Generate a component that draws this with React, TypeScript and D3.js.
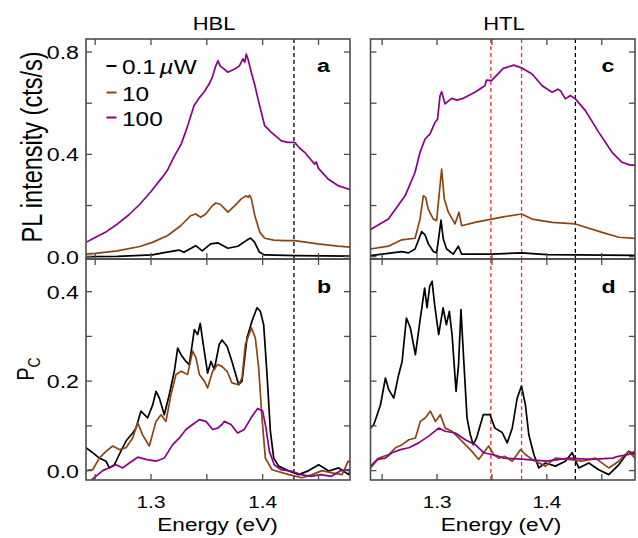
import React from 'react';
import * as d3 from 'd3';

type Pt = [number, number];

// ---------- Data (energy eV, value) ----------
const hblPL01: Pt[] = [
  [1.2418, 0.0], [1.2698, 0.0015], [1.3012, 0.007], [1.3131, 0.017], [1.325, 0.026], [1.3295, 0.017],
  [1.34, 0.043], [1.3459, 0.023], [1.3534, 0.05], [1.36, 0.054], [1.3689, 0.033], [1.3778, 0.041],
  [1.3853, 0.063], [1.3892, 0.073], [1.3928, 0.056], [1.3972, 0.017], [1.4018, 0.007], [1.43, 0.004], [1.4785, 0.002],
];
const hblPL10: Pt[] = [
  [1.2418, 0.01], [1.25, 0.013], [1.2698, 0.023], [1.29, 0.04], [1.3012, 0.056], [1.3146, 0.082], [1.3266, 0.121],
  [1.3355, 0.16], [1.34, 0.167], [1.3445, 0.154], [1.349, 0.167], [1.3549, 0.199], [1.358, 0.21], [1.362, 0.205],
  [1.3689, 0.174], [1.3749, 0.199], [1.3808, 0.226], [1.3853, 0.238], [1.387, 0.232], [1.3883, 0.24], [1.3898, 0.228],
  [1.393, 0.16], [1.3975, 0.095], [1.4018, 0.072], [1.41, 0.065], [1.4197, 0.063], [1.4286, 0.063], [1.4494, 0.05],
  [1.4674, 0.041], [1.4785, 0.037],
];
const hblPL100: Pt[] = [
  [1.2418, 0.056], [1.25, 0.075], [1.26, 0.098], [1.27, 0.128], [1.28, 0.163], [1.29, 0.205], [1.3, 0.255],
  [1.31, 0.31], [1.315, 0.34], [1.32, 0.385], [1.327, 0.44], [1.332, 0.5], [1.3385, 0.59], [1.343, 0.62],
  [1.3474, 0.643], [1.352, 0.675], [1.3549, 0.701], [1.3575, 0.74], [1.3594, 0.76], [1.36, 0.766], [1.362, 0.745],
  [1.365, 0.735], [1.3689, 0.721], [1.372, 0.728], [1.3749, 0.734], [1.379, 0.745], [1.3824, 0.773], [1.384, 0.76],
  [1.3853, 0.792], [1.387, 0.77], [1.3898, 0.721], [1.393, 0.67], [1.3958, 0.617], [1.4018, 0.512], [1.4077, 0.486],
  [1.412, 0.47], [1.4167, 0.453], [1.4226, 0.447], [1.4286, 0.447], [1.433, 0.425], [1.4376, 0.408], [1.442, 0.385],
  [1.4466, 0.362], [1.448, 0.37], [1.45, 0.345], [1.4585, 0.304], [1.4674, 0.278], [1.4785, 0.262],
];

const htlPL01: Pt[] = [
  [1.2394, 0.004], [1.2679, 0.02], [1.274, 0.015], [1.28, 0.03], [1.286, 0.098], [1.2891, 0.085], [1.2921, 0.05],
  [1.2966, 0.02], [1.2996, 0.015], [1.3018, 0.082], [1.3036, 0.143], [1.3057, 0.069], [1.3087, 0.03], [1.3148, 0.01],
  [1.3194, 0.041], [1.3224, 0.01], [1.35, 0.01], [1.377, 0.015], [1.4, 0.008], [1.4803, 0.005],
];
const htlPL10: Pt[] = [
  [1.2394, 0.03], [1.2557, 0.041], [1.2679, 0.066], [1.28, 0.072], [1.2845, 0.147], [1.2875, 0.238], [1.2896, 0.232],
  [1.292, 0.186], [1.2966, 0.147], [1.2996, 0.141], [1.3018, 0.238], [1.3042, 0.342], [1.3066, 0.226], [1.3103, 0.174],
  [1.3163, 0.128], [1.32, 0.174], [1.3224, 0.121], [1.3345, 0.134], [1.3496, 0.147], [1.3603, 0.156], [1.377, 0.167],
  [1.3866, 0.147], [1.4048, 0.134], [1.426, 0.128], [1.4503, 0.095], [1.4655, 0.076], [1.4803, 0.072],
];
const htlPL100: Pt[] = [
  [1.2394, 0.106], [1.2557, 0.147], [1.2709, 0.238], [1.28, 0.33], [1.2845, 0.408], [1.2891, 0.46], [1.2936, 0.48],
  [1.2982, 0.525], [1.3005, 0.538], [1.3027, 0.629], [1.3042, 0.645], [1.3073, 0.597], [1.3133, 0.619], [1.318, 0.612],
  [1.3239, 0.619], [1.3345, 0.643], [1.3436, 0.668], [1.345, 0.69], [1.3496, 0.688], [1.3603, 0.736], [1.37, 0.749],
  [1.3775, 0.737], [1.3866, 0.714], [1.3957, 0.668], [1.4048, 0.643], [1.41, 0.655], [1.4124, 0.649], [1.4169, 0.617],
  [1.4215, 0.63], [1.426, 0.617], [1.4351, 0.571], [1.4473, 0.486], [1.4594, 0.408], [1.4685, 0.369], [1.476, 0.358],
  [1.4803, 0.358],
];

const hblPC01: Pt[] = [
  [1.2418, 0.051], [1.2478, 0.04], [1.2537, 0.028], [1.2597, 0.021], [1.2627, 0.006], [1.2672, 0.013], [1.2716, 0.036],
  [1.2776, 0.066], [1.2836, 0.084], [1.2866, 0.095], [1.291, 0.133], [1.297, 0.118], [1.3015, 0.147], [1.3045, 0.177],
  [1.3075, 0.162], [1.3119, 0.125], [1.3164, 0.17], [1.3209, 0.222], [1.3239, 0.274], [1.3269, 0.259], [1.3313, 0.244],
  [1.3343, 0.237], [1.3388, 0.315], [1.3418, 0.304], [1.3441, 0.329], [1.3468, 0.282], [1.3507, 0.218], [1.3537, 0.244],
  [1.3567, 0.226], [1.3611, 0.282], [1.3636, 0.292], [1.3681, 0.278], [1.3725, 0.244], [1.3785, 0.192], [1.3815, 0.2],
  [1.386, 0.297], [1.3904, 0.334], [1.3949, 0.364], [1.3979, 0.356], [1.4009, 0.326], [1.4039, 0.215], [1.4069, 0.088],
  [1.4099, 0.028], [1.4144, 0.01], [1.4234, -0.001], [1.4323, -0.009], [1.4413, 0.0], [1.4502, 0.013], [1.4592, -0.001],
  [1.4681, 0.006], [1.4771, -0.009], [1.4782, 0.0],
];
const hblPC10: Pt[] = [
  [1.2418, 0.0], [1.2478, 0.002], [1.2537, 0.028], [1.2597, 0.043], [1.2657, 0.055], [1.2716, 0.047], [1.2776, 0.051],
  [1.2836, 0.073], [1.2881, 0.107], [1.2925, 0.08], [1.2985, 0.055], [1.3045, 0.11], [1.309, 0.125], [1.3134, 0.11],
  [1.3179, 0.17], [1.3224, 0.215], [1.3269, 0.222], [1.3328, 0.215], [1.3373, 0.267], [1.3403, 0.252], [1.3433, 0.215],
  [1.3478, 0.2], [1.3507, 0.185], [1.3552, 0.222], [1.3597, 0.237], [1.3636, 0.233], [1.3681, 0.222], [1.3725, 0.196],
  [1.3785, 0.192], [1.3815, 0.207], [1.3845, 0.282], [1.3899, 0.319], [1.3934, 0.297], [1.3964, 0.23], [1.3994, 0.118],
  [1.4024, 0.028], [1.4084, 0.002], [1.4234, -0.009], [1.4353, -0.016], [1.4443, -0.009], [1.4532, 0.0], [1.4622, -0.005],
  [1.4711, -0.009], [1.4766, 0.021], [1.4782, 0.017],
];
const hblPC100: Pt[] = [
  [1.247, -0.02], [1.2568, 0.0], [1.2687, 0.013], [1.2747, 0.006], [1.2806, 0.017], [1.2881, 0.03], [1.2955, 0.025],
  [1.3045, 0.021], [1.3119, 0.028], [1.3194, 0.058], [1.3254, 0.073], [1.3313, 0.092], [1.3373, 0.103], [1.3433, 0.114],
  [1.3492, 0.11], [1.3552, 0.092], [1.3597, 0.095], [1.3636, 0.103], [1.3655, 0.11], [1.3716, 0.103], [1.3776, 0.084],
  [1.3836, 0.092], [1.3896, 0.118], [1.3955, 0.139], [1.4, 0.133], [1.403, 0.095], [1.406, 0.043], [1.4104, 0.013],
  [1.4164, 0.002], [1.4254, -0.001], [1.4343, -0.009], [1.4433, -0.013], [1.4522, -0.009], [1.4612, -0.013],
  [1.4701, 0.0], [1.4782, 0.002],
];

const htlPC01: Pt[] = [
  [1.2394, 0.095], [1.2424, 0.103], [1.2455, 0.125], [1.2485, 0.147], [1.253, 0.207], [1.256, 0.181], [1.2606, 0.162],
  [1.2651, 0.215], [1.2682, 0.244], [1.2721, 0.341], [1.2757, 0.319], [1.2803, 0.259], [1.2848, 0.341], [1.2887, 0.408],
  [1.2909, 0.364], [1.2933, 0.412], [1.2955, 0.423], [1.2978, 0.371], [1.3015, 0.304], [1.3055, 0.364], [1.3085, 0.326],
  [1.3112, 0.356], [1.3137, 0.304], [1.3173, 0.177], [1.3196, 0.237], [1.3218, 0.36], [1.3242, 0.252], [1.3273, 0.118],
  [1.3303, 0.08], [1.333, 0.058], [1.336, 0.073], [1.3421, 0.125], [1.3482, 0.125], [1.3527, 0.095], [1.3594, 0.085],
  [1.3639, 0.062], [1.3685, 0.095], [1.373, 0.162], [1.3769, 0.189], [1.3805, 0.147], [1.3836, 0.08], [1.3882, 0.036],
  [1.3927, 0.006], [1.3987, 0.017], [1.4078, 0.01], [1.4169, 0.021], [1.423, 0.04], [1.4291, 0.006], [1.4382, 0.017],
  [1.4473, 0.002], [1.4564, -0.009], [1.4655, 0.013], [1.4745, 0.043], [1.4803, 0.036],
];
const htlPC10: Pt[] = [
  [1.2394, 0.006], [1.247, 0.028], [1.2561, 0.036], [1.2621, 0.051], [1.2682, 0.058], [1.2743, 0.069], [1.2803, 0.073],
  [1.2848, 0.11], [1.2894, 0.118], [1.2939, 0.133], [1.2985, 0.11], [1.303, 0.125], [1.3075, 0.095], [1.3136, 0.088],
  [1.3197, 0.073], [1.3258, 0.058], [1.3318, 0.043], [1.3379, 0.025], [1.3424, 0.04], [1.347, 0.055], [1.3515, 0.036],
  [1.3561, 0.028], [1.3615, 0.032], [1.3685, 0.021], [1.3761, 0.047], [1.3805, 0.036], [1.3866, 0.025], [1.3987, 0.01],
  [1.4078, 0.028], [1.42, 0.025], [1.4321, 0.021], [1.4442, 0.028], [1.4564, 0.006], [1.4655, 0.021], [1.4745, 0.043],
  [1.4803, 0.028],
];
const htlPC100: Pt[] = [
  [1.2394, 0.01], [1.2455, 0.025], [1.253, 0.028], [1.259, 0.04], [1.2667, 0.047], [1.2743, 0.051], [1.2833, 0.062],
  [1.2924, 0.077], [1.3015, 0.095], [1.3075, 0.088], [1.3167, 0.084], [1.3258, 0.069], [1.3348, 0.058], [1.3424, 0.04],
  [1.35, 0.036], [1.3561, 0.032], [1.36, 0.028], [1.38, 0.025], [1.4, 0.021], [1.42, 0.028], [1.44, 0.025], [1.46, 0.028],
  [1.465, 0.032], [1.4745, 0.036], [1.4803, 0.043],
];

const seriesNames = ['0.1', '10', '100'];
const seriesColors = ['#000000', '#8B4513', '#8B008B'];
const xTicks = [1.25, 1.3, 1.35, 1.4, 1.45];
const xTickLabels = [1.3, 1.4];
const plTicks = [0, 0.2, 0.4, 0.6, 0.8];
const plTickLabels = [0, 0.4, 0.8];
const pcTicks = [0, 0.1, 0.2, 0.3, 0.4];
const pcTickLabels = [0, 0.2, 0.4];
const hblDashed = [1.428];
const htlBlackDashed = [1.426];
const htlRedDashed = [1.349, 1.377];

// ---------- Layout ----------
const W = 638, H = 538;
const SX = 1.22;
const FONT = '"Liberation Sans", Arial, Helvetica, sans-serif';
const LEFT = { x0: 86, x1: 350, dom: [1.2418, 1.4782] };
const RIGHT = { x0: 370.5, x1: 635, dom: [1.2394, 1.4803] };
const TOP = { y0: 39, y1: 259, dom: [-0.009, 0.851] };
const BOT = { y0: 259, y1: 480, dom: [-0.021, 0.473] };
const FRAME = '#4d4d4d';

function HText(p: { x: number; y: number; size: number; anchor?: string; weight?: string; children: any }) {
  return (
    <text transform={`translate(${p.x},${p.y}) scale(${SX},1)`} fontSize={p.size} textAnchor={p.anchor || 'start'}
      fontWeight={p.weight || 'normal'} fontFamily={FONT} fill="#000">{p.children}</text>
  );
}

function Panel(props: {
  id: string; col: typeof LEFT; row: typeof TOP; series: Pt[][]; yTicks: number[]; yLabels: number[] | null;
  xLabels: boolean; blackDash: number[]; redDash: number[]; letter: string;
}) {
  const { col, row } = props;
  const x = d3.scaleLinear().domain(col.dom).range([col.x0, col.x1]);
  const y = d3.scaleLinear().domain(row.dom).range([row.y1, row.y0]);
  const line = d3.line<Pt>().x(d => x(d[0])).y(d => y(d[1]));
  const tl = 6;
  return (
    <g>
      <defs>
        <clipPath id={`clip-${props.id}`}>
          <rect x={col.x0} y={row.y0} width={col.x1 - col.x0} height={row.y1 - row.y0} />
        </clipPath>
      </defs>
      <g clipPath={`url(#clip-${props.id})`}>
        {props.blackDash.map((e, i) => (
          <line key={'b' + i} x1={x(e)} x2={x(e)} y1={row.y0} y2={row.y1} stroke="#000" strokeWidth={1.3} strokeDasharray="4,3" />
        ))}
        {props.redDash.map((e, i) => (
          <line key={'r' + i} x1={x(e)} x2={x(e)} y1={row.y0} y2={row.y1} stroke="#ff2a2a" strokeWidth={1.3} strokeDasharray="4,3" />
        ))}
        {props.series.map((s, i) => (
          <path key={i} d={line(s) || ''} fill="none" stroke={seriesColors[i]} strokeWidth={1.7} strokeLinejoin="round" />
        ))}
      </g>
      {xTicks.map(t => (
        <g key={'xt' + t}>
          <line x1={x(t)} x2={x(t)} y1={row.y0} y2={row.y0 + tl} stroke={FRAME} strokeWidth={1.3} />
          <line x1={x(t)} x2={x(t)} y1={row.y1} y2={row.y1 - tl} stroke={FRAME} strokeWidth={1.3} />
        </g>
      ))}
      {props.yTicks.map(t => (
        <g key={'yt' + t}>
          <line x1={col.x0} x2={col.x0 + tl} y1={y(t)} y2={y(t)} stroke={FRAME} strokeWidth={1.3} />
          <line x1={col.x1} x2={col.x1 - tl} y1={y(t)} y2={y(t)} stroke={FRAME} strokeWidth={1.3} />
        </g>
      ))}
      <rect x={col.x0} y={row.y0} width={col.x1 - col.x0} height={row.y1 - row.y0} fill="none" stroke={FRAME} strokeWidth={1.6} />
      {props.yLabels && props.yLabels.map(t => (
        <HText key={'yl' + t} x={79} y={y(t) + 7} size={19} anchor="end">{d3.format('.1f')(t)}</HText>
      ))}
      {props.xLabels && xTickLabels.map(t => (
        <HText key={'xl' + t} x={x(t)} y={508} size={17} anchor="middle">{d3.format('.1f')(t)}</HText>
      ))}
      <HText x={col === LEFT ? 317 : 601.5} y={row === TOP ? 72 : 293} size={19} weight="bold">{props.letter}</HText>
    </g>
  );
}

export default function App() {
  const legendY = [66, 92.5, 117.5];
  return (
    <svg width={W} height={H} viewBox={`0 0 ${W} ${H}`} style={{ position: 'absolute', left: 0, top: 0, background: '#fff' }}>
      <rect x={0} y={0} width={W} height={H} fill="#fff" />
      <Panel id="a" col={LEFT} row={TOP} series={[hblPL01, hblPL10, hblPL100]} yTicks={plTicks} yLabels={plTickLabels}
        xLabels={false} blackDash={hblDashed} redDash={[]} letter="a" />
      <Panel id="b" col={LEFT} row={BOT} series={[hblPC01, hblPC10, hblPC100]} yTicks={pcTicks} yLabels={pcTickLabels}
        xLabels={true} blackDash={hblDashed} redDash={[]} letter="b" />
      <Panel id="c" col={RIGHT} row={TOP} series={[htlPL01, htlPL10, htlPL100]} yTicks={plTicks} yLabels={null}
        xLabels={false} blackDash={htlBlackDashed} redDash={htlRedDashed} letter="c" />
      <Panel id="d" col={RIGHT} row={BOT} series={[htlPC01, htlPC10, htlPC100]} yTicks={pcTicks} yLabels={null}
        xLabels={true} blackDash={htlBlackDashed} redDash={htlRedDashed} letter="d" />

      {/* titles */}
      <HText x={214} y={29.5} size={18} anchor="middle">HBL</HText>
      <HText x={504} y={29.5} size={18} anchor="middle">HTL</HText>

      {/* axis titles */}
      <HText x={217.5} y={531} size={18.5} anchor="middle">Energy (eV)</HText>
      <HText x={501} y={531} size={18.5} anchor="middle">Energy (eV)</HText>
      <text transform={`translate(42,147) scale(${SX},1) rotate(-90)`} fontSize={23.5} textAnchor="middle" fontFamily={FONT}>
        PL intensity (cts/s)
      </text>
      <text transform={`translate(34,369) scale(${SX},1) rotate(-90)`} fontSize={20} textAnchor="middle" fontFamily={FONT}>
        P<tspan fontSize={14} dy={5}>C</tspan>
      </text>

      {/* legend */}
      {seriesNames.map((n, i) => (
        <g key={n}>
          <line x1={106.5} x2={116.5} y1={legendY[i]} y2={legendY[i]} stroke={seriesColors[i]} strokeWidth={2} />
          <HText x={122} y={legendY[i] + 8.3} size={20}>
            {i === 0 ? (<>{n}<tspan dx={3} fontStyle="italic">µ</tspan>W</>) : n}
          </HText>
        </g>
      ))}
    </svg>
  );
}
